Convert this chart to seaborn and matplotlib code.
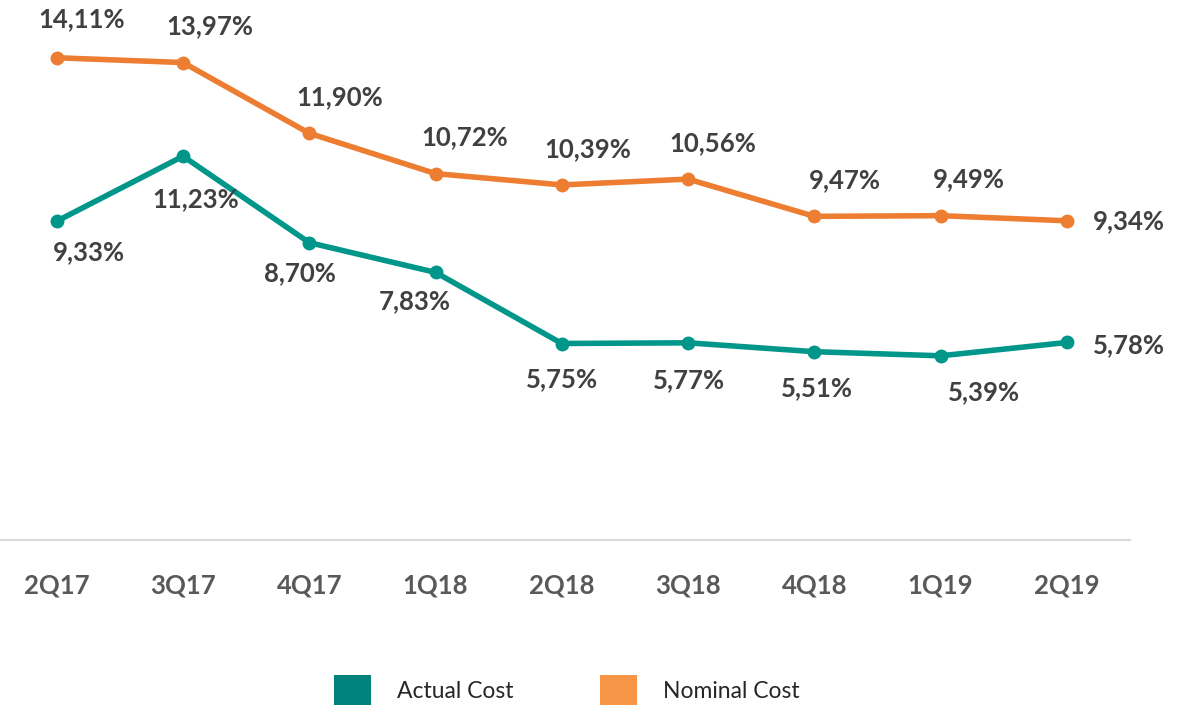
import matplotlib
matplotlib.use("Agg")
import matplotlib.pyplot as plt
from matplotlib.patches import Patch
import seaborn as sns
import pandas as pd

quarters = ["2Q17", "3Q17", "4Q17", "1Q18", "2Q18", "3Q18", "4Q18", "1Q19", "2Q19"]
actual_cost = [9.33, 11.23, 8.70, 7.83, 5.75, 5.77, 5.51, 5.39, 5.78]
nominal_cost = [14.11, 13.97, 11.90, 10.72, 10.39, 10.56, 9.47, 9.49, 9.34]
series_names = ["Actual Cost", "Nominal Cost"]

line_colors = {"Actual Cost": "#00968A", "Nominal Cost": "#ED7D31"}
legend_colors = {"Actual Cost": "#00827D", "Nominal Cost": "#F79646"}

sns.set_style("white")
plt.rcParams['font.family'] = ['Lato', 'DejaVu Sans']

df = pd.DataFrame({
    "x": list(range(len(quarters))) * 2,
    "value": actual_cost + nominal_cost,
    "series": [series_names[0]] * len(quarters) + [series_names[1]] * len(quarters),
})

fig = plt.figure(figsize=(11.86, 7.05), dpi=100)
ax = fig.add_axes([0.0, 0.234, 1130 / 1186, 0.766])

sns.lineplot(data=df, x="x", y="value", hue="series", palette=line_colors,
             linewidth=4.0, marker="o", markersize=10, markeredgewidth=0,
             legend=False, ax=ax)

ax.set_xlim(-0.45, 8.5)
ax.set_ylim(0, 15.8)
ax.set_xticks(range(len(quarters)))
ax.set_xticklabels(quarters, fontsize=18.5, fontweight="bold", color="#595959")
ax.tick_params(axis="x", length=0, pad=24)
ax.set_yticks([])
ax.set_xlabel("")
ax.set_ylabel("")
for s in ["top", "right", "left"]:
    ax.spines[s].set_visible(False)
ax.spines["bottom"].set_color("#D9D9D9")
ax.spines["bottom"].set_linewidth(1.5)

def fmt(v):
    return f"{v:.2f}%".replace(".", ",")

# label offsets in points (dx, dy)
nom_off = [(18, 28), (19, 26), (22, 26), (21, 26), (19, 26), (18, 26), (22, 26), (20, 26), (45, 0)]
act_off = [(23, -22), (9, -31), (-7, -22), (-15, -21), (0, -26), (1, -27), (2, -26), (31, -26), (45, -2)]

label_kw = dict(fontsize=18.5, fontweight="bold", color="#404040", ha="center", va="center",
                textcoords="offset points")
for i, v in enumerate(nominal_cost):
    ax.annotate(fmt(v), (i, v), xytext=nom_off[i], **label_kw)
for i, v in enumerate(actual_cost):
    ax.annotate(fmt(v), (i, v), xytext=act_off[i], **label_kw)

handles = [Patch(facecolor=legend_colors[n], edgecolor="none") for n in series_names]
fig.legend(handles, series_names, loc="center", bbox_to_anchor=(0.478, 0.02),
           ncol=2, frameon=False, fontsize=16.5, handlelength=1.62, handleheight=1.75,
           handletextpad=1.14, columnspacing=3.75, borderpad=0)

fig.savefig("out.png", dpi=100)
